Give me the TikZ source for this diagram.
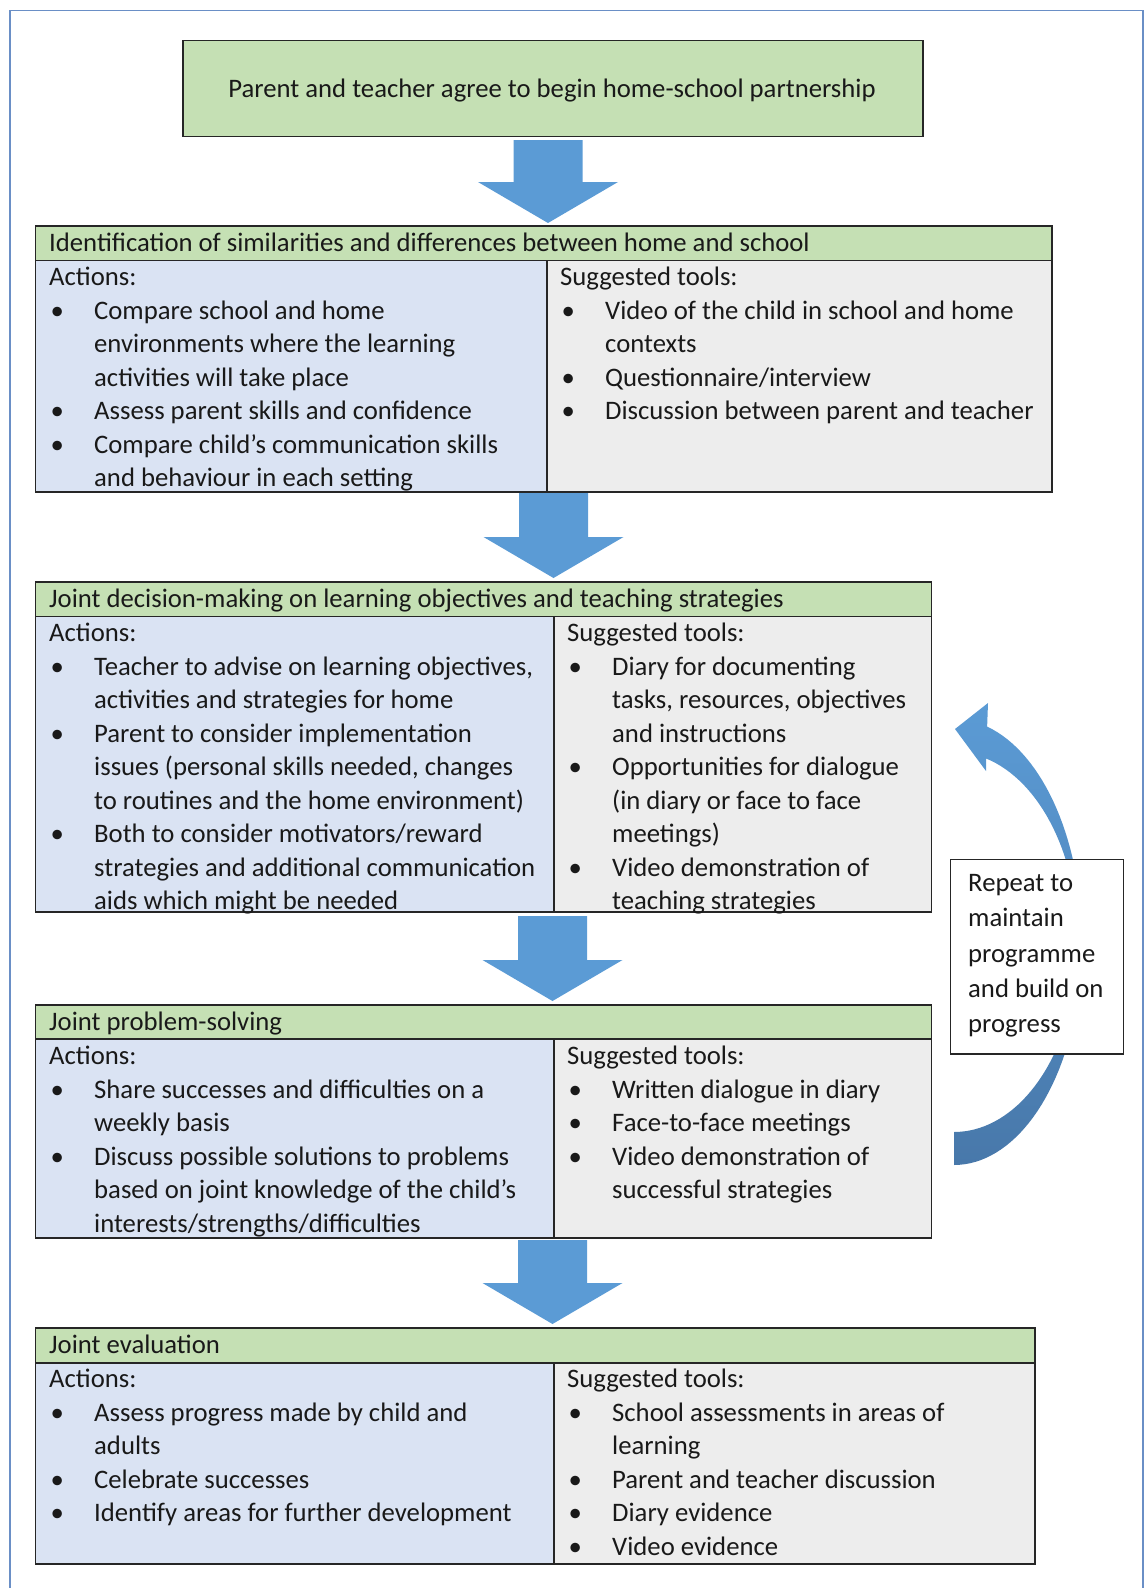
\documentclass[tikz,border=0pt]{standalone}
\usepackage{fontspec}
\setmainfont{Carlito}
\definecolor{hdrgreen}{HTML}{C5E0B4}
\definecolor{actblue}{HTML}{DAE3F3}
\definecolor{toolgray}{HTML}{EDEDED}
\definecolor{arrowblue}{HTML}{5B9BD5}
\definecolor{arrowdark}{HTML}{4878AA}
\definecolor{framecol}{HTML}{6A8FC6}
\newcommand{\bl}{\makebox[45pt][l]{\hspace*{1.5pt}•}}
\newcommand{\cl}{\hspace*{45pt}}
\newcommand{\blockarrow}[4]{%
  \fill[arrowblue] (#1-34.5,#2) -- (#1+34.5,#2) -- (#1+34.5,#3) -- (#1+70,#3)
    -- (#1,#4) -- (#1-70,#3) -- (#1-34.5,#3) -- cycle;}
% top, header bottom, bottom, right, split
\newcommand{\stagebox}[5]{%
  \fill[hdrgreen] (35.4,#1) rectangle (#4,#2);
  \fill[actblue] (35.4,#2) rectangle (#5,#3);
  \fill[toolgray] (#5,#2) rectangle (#4,#3);
  \draw[bx] (35.4,#1) rectangle (#4,#3);
  \draw[bx] (35.4,#2) -- (#4,#2);
  \draw[bx] (#5,#2) -- (#5,#3);}
\tikzset{
  bx/.style={draw=black!85, line width=1.6pt},
  txt/.style={anchor=base west, inner sep=0pt, font=\fontsize{26.7}{33.5}\selectfont, text=black!90},
  reptxt/.style={anchor=base west, inner sep=0pt, font=\fontsize{26.7}{35.2}\selectfont, text=black!90},
}
\begin{document}
\begin{tikzpicture}[x=1pt,y=-1pt]
\useasboundingbox (0,0) rectangle (1145,1588);
% outer frame
\draw[framecol, line width=1.3pt] (10,1588) -- (10,10.5) -- (1143,10.5) -- (1143,1588);

% start box
\node[draw=black!85, line width=1.6pt, fill=hdrgreen, minimum width=740pt, minimum height=96pt,
      anchor=north west, inner sep=0pt] (start) at (182,39.5) {};
\node[txt, anchor=base] (starttext) at (552,97.7) {Parent and teacher agree to begin home-school partnership};

% block arrows
\blockarrow{548}{140}{182}{223}
\blockarrow{553.5}{493}{537}{578}
\blockarrow{552.5}{916}{960}{1001}
\blockarrow{552.5}{1240}{1283}{1324}

% stage 1
\stagebox{226}{260.5}{492}{1052}{547}
\node[txt] (h1) at (49,251.6) {Identification of similarities and differences between home and school};
\node[txt] (a1) at (49,285.5) {\begin{tabular}[t]{@{}l@{}}
Actions:\\
\bl Compare school and home\\
\cl environments where the learning\\
\cl activities will take place\\
\bl Assess parent skills and confidence\\
\bl Compare child’s communication skills\\
\cl and behaviour in each setting
\end{tabular}};
\node[txt] (t1) at (560,285.5) {\begin{tabular}[t]{@{}l@{}}
Suggested tools:\\
\bl Video of the child in school and home\\
\cl contexts\\
\bl Questionnaire/interview\\
\bl Discussion between parent and teacher
\end{tabular}};

% stage 2
\stagebox{582}{616.5}{912}{931.4}{553.8}
\node[txt] (h2) at (49,607.6) {Joint decision-making on learning objectives and teaching strategies};
\node[txt] (a2) at (49,641.5) {\begin{tabular}[t]{@{}l@{}}
Actions:\\
\bl Teacher to advise on learning objectives,\\
\cl activities and strategies for home\\
\bl Parent to consider implementation\\
\cl issues (personal skills needed, changes\\
\cl to routines and the home environment)\\
\bl Both to consider motivators/reward\\
\cl strategies and additional communication\\
\cl aids which might be needed
\end{tabular}};
\node[txt] (t2) at (567,641.5) {\begin{tabular}[t]{@{}l@{}}
Suggested tools:\\
\bl Diary for documenting\\
\cl tasks, resources, objectives\\
\cl and instructions\\
\bl Opportunities for dialogue\\
\cl (in diary or face to face\\
\cl meetings)\\
\bl Video demonstration of\\
\cl teaching strategies
\end{tabular}};

% stage 3
\stagebox{1005}{1039}{1238}{931.4}{553.8}
\node[txt] (h3) at (49,1030.6) {Joint problem-solving};
\node[txt] (a3) at (49,1064.5) {\begin{tabular}[t]{@{}l@{}}
Actions:\\
\bl Share successes and difficulties on a\\
\cl weekly basis\\
\bl Discuss possible solutions to problems\\
\cl based on joint knowledge of the child’s\\
\cl interests/strengths/difficulties
\end{tabular}};
\node[txt] (t3) at (567,1064.5) {\begin{tabular}[t]{@{}l@{}}
Suggested tools:\\
\bl Written dialogue in diary\\
\bl Face-to-face meetings\\
\bl Video demonstration of\\
\cl successful strategies
\end{tabular}};

% stage 4
\stagebox{1328}{1362.7}{1564}{1034.7}{553.8}
\node[txt] (h4) at (49,1353.6) {Joint evaluation};
\node[txt] (a4) at (49,1387.5) {\begin{tabular}[t]{@{}l@{}}
Actions:\\
\bl Assess progress made by child and\\
\cl adults\\
\bl Celebrate successes\\
\bl Identify areas for further development
\end{tabular}};
\node[txt] (t4) at (567,1387.5) {\begin{tabular}[t]{@{}l@{}}
Suggested tools:\\
\bl School assessments in areas of\\
\cl learning\\
\bl Parent and teacher discussion\\
\bl Diary evidence\\
\bl Video evidence
\end{tabular}};

% curved repeat arrow
\shade[top color=arrowblue, bottom color=arrowdark]
  plot[domain=75:-90, samples=70] ({954+128*cos(\x)},{942-223*sin(\x)})
  -- plot[domain=-90:75, samples=70] ({954+124*cos(\x)},{942-190*sin(\x)})
  -- (986,771) -- (955,729) -- (988,703) -- cycle;

% repeat box
\node[draw=black!85, line width=1.6pt, fill=white, minimum width=173pt, minimum height=194.5pt,
      anchor=north west, inner sep=0pt] (rep) at (949.6,858.5) {};
\node[reptxt] (reptext) at (968,891.6) {\begin{tabular}[t]{@{}l@{}}
Repeat to\\ maintain\\ programme\\ and build on\\ progress
\end{tabular}};
\end{tikzpicture}
\end{document}
